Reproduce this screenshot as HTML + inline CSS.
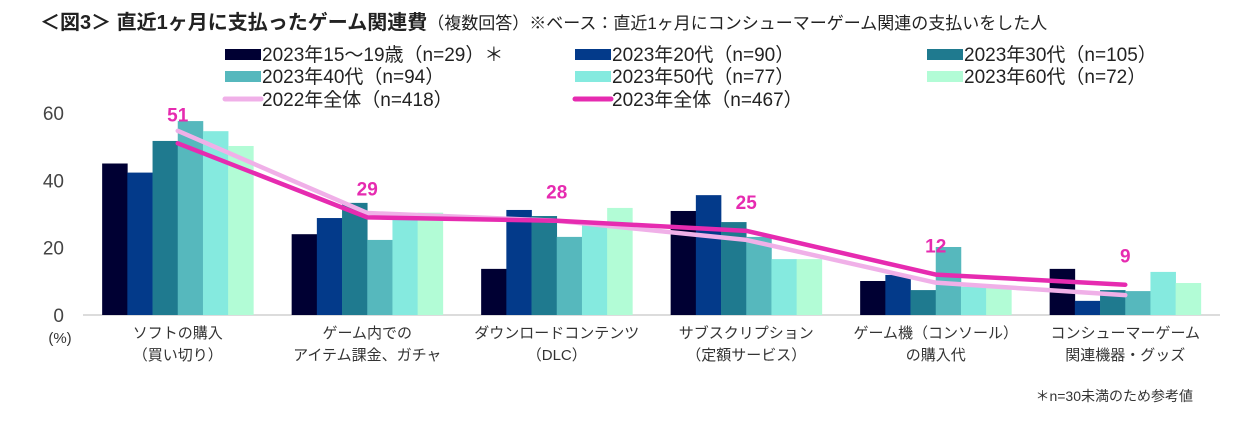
<!DOCTYPE html>
<html><head><meta charset="utf-8">
<style>
body{margin:0;background:#fff;}
svg text{font-family:"Liberation Sans","Noto Sans CJK JP",sans-serif;}
</style></head>
<body>
<svg id="chart" width="1245" height="416" viewBox="0 0 1245 416" xmlns="http://www.w3.org/2000/svg">
<text x="40" y="29" font-size="20" fill="#222"><tspan font-weight="bold">＜図3＞ 直近1ヶ月に支払ったゲーム関連費</tspan><tspan font-size="17">（複数回答）※ベース：直近1ヶ月にコンシューマーゲーム関連の支払いをした人</tspan></text>
<g id="legend"></g>
<g id="axes"></g>
<g id="bars"></g>
<g id="lines"></g>
<text x="1193" y="401" font-size="14" text-anchor="end" fill="#333">＊n=30未満のため参考値</text>
</svg>
<script>
const categories=[["ソフトの購入","（買い切り）"],["ゲーム内での","アイテム課金、ガチャ"],["ダウンロードコンテンツ","（DLC）"],["サブスクリプション","（定額サービス）"],["ゲーム機（コンソール）","の購入代"],["コンシューマーゲーム","関連機器・グッズ"]];
const seriesNames=["2023年15～19歳（n=29）＊","2023年20代（n=90）","2023年30代（n=105）","2023年40代（n=94）","2023年50代（n=77）","2023年60代（n=72）"];
const v15=[45,24,13.7,30.9,10.1,13.7];
const v20=[42.3,28.8,31.2,35.6,11.9,4.2];
const v30=[51.7,33.3,29.4,27.6,7.4,7.4];
const v40=[57.6,22.3,23.2,23.2,20.2,7.1];
const v50=[54.6,29,26.7,16.6,8.4,12.8];
const v60=[50.2,30.4,31.8,16.6,8.4,9.5];
const total2022=[54.7,30.3,28,22.3,9.6,5.9];
const total2023=[51,29,28,25,12,9];
const labels2023=["51","29","28","25","12","9"];
const yTicks=[0,20,40,60];
const NS="http://www.w3.org/2000/svg";
const colors=["#000033","#033a8a","#1f7a8f","#56b8bd","#85eadf","#b2fcd6"];
const barSeries=[v15,v20,v30,v40,v50,v60];
const plotL=83,plotW=1137,y0=315,y60=113;
const bw=plotW/categories.length;
function yS(v){return y0-(v/60)*(y0-y60);}
function xC(i){return plotL+bw*(i+0.5);}
function mk(tag,attrs,parent){const e=document.createElementNS(NS,tag);for(const k in attrs)e.setAttribute(k,attrs[k]);parent.appendChild(e);return e;}
const axes=document.getElementById('axes'),bars=document.getElementById('bars'),lines=document.getElementById('lines'),legend=document.getElementById('legend');
let ax=mk('line',{x1:plotL,x2:plotL+plotW,y1:y0,y2:y0,stroke:'#d0d0d0','stroke-width':1.5},axes);


yTicks.forEach(t=>{const e=mk('text',{x:64,y:yS(t)+7,'font-size':19,'text-anchor':'end',fill:'#444'},axes);e.textContent=t;

});
let pct=mk('text',{x:60,y:343,'font-size':15,'text-anchor':'middle',fill:'#333'},axes);pct.textContent='(%)';


categories.forEach((c,i)=>{c.forEach((ln,j)=>{const e=mk('text',{x:xC(i),y:338+j*22,'font-size':15,'text-anchor':'middle',fill:'#333'},axes);e.textContent=ln;

});});
const barW=25.2;
barSeries.forEach((s,k)=>{s.forEach((v,i)=>{const x=xC(i)-3*barW+k*barW;const r=mk('rect',{x:x,y:yS(v),width:barW+0.3,height:y0-yS(v),fill:colors[k]},bars);

});});
function drawLine(vals,col,w,name){const d=vals.map((v,i)=>(i?'L':'M')+xC(i)+' '+yS(v)).join(' ');const p=mk('path',{d:d,fill:'none',stroke:col,'stroke-width':w,'stroke-linecap':'round','stroke-linejoin':'round'},lines);

}
drawLine(total2022,'#f0b0e8',4.5,'line-2022-total');
drawLine(total2023,'#e62bb0',4.5,'line-2023-total');
total2023.forEach((v,i)=>{const e=mk('text',{x:xC(i),y:yS(v)-22,'font-size':19,'font-weight':'bold','text-anchor':'middle',fill:'#e62bb0'},lines);e.textContent=labels2023[i];

});
const legX=[225,575,927],legY=[54,76,99];
seriesNames.forEach((n,k)=>{const cx=legX[k%3],cy=legY[Math.floor(k/3)];const r=mk('rect',{x:cx,y:cy-5,width:36,height:11,fill:colors[k]},legend);


const t=mk('text',{x:cx+37,y:cy+7,'font-size':19,fill:'#222'},legend);t.textContent=n;

});
[["2022年全体（n=418）","#f0b0e8"],["2023年全体（n=467）","#e62bb0"]].forEach((it,k)=>{const cx=legX[k],cy=legY[2];const l=mk('line',{x1:cx,x2:cx+36,y1:cy,y2:cy,stroke:it[1],'stroke-width':5,'stroke-linecap':'round'},legend);


const t=mk('text',{x:cx+37,y:cy+7,'font-size':19,fill:'#222'},legend);t.textContent=it[0];

});
</script>
</body></html>
